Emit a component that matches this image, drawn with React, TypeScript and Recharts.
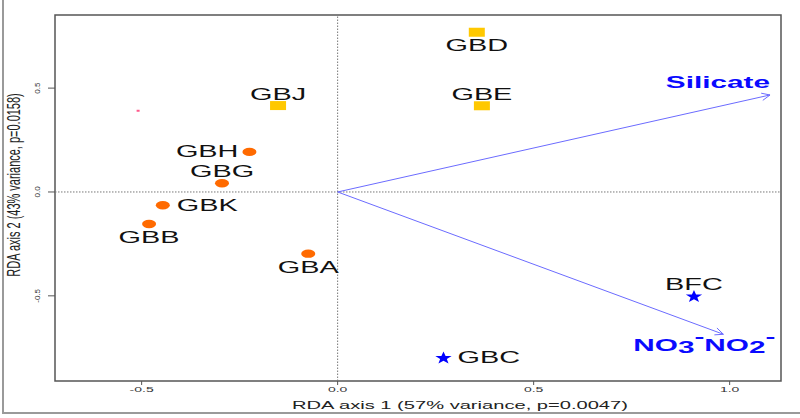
import React from 'react'
import { ScatterChart, Scatter, XAxis, YAxis, ReferenceLine, ReferenceArea, Label } from 'recharts'

// site scores (RDA axis 1, RDA axis 2)
const orangeSites = ['GBH', 'GBG', 'GBK', 'GBB', 'GBA']
const orangeAxis1 = [-0.225, -0.295, -0.446, -0.481, -0.075]
const orangeAxis2 = [0.193, 0.042, -0.064, -0.154, -0.297]

const yellowSites = ['GBD', 'GBE', 'GBJ']
const yellowAxis1 = [0.355, 0.368, -0.152]
const yellowAxis2 = [0.769, 0.415, 0.416]

const blueSites = ['GBC', 'BFC']
const blueAxis1 = [0.27, 0.909]
const blueAxis2 = [-0.796, -0.5]

// stray mark on the left
const strayAxis1 = [-0.509]
const strayAxis2 = [0.391]

// environmental vectors
const vectorNames = ['Silicate', 'NO3-NO2']
const vectorAxis1 = [1.103, 0.984]
const vectorAxis2 = [0.467, -0.685]

const xTicks = [-0.5, 0, 0.5, 1.0]
const yTicks = [-0.5, 0, 0.5]
const xDomain = [-0.721, 1.131]
const yDomain = [-0.91, 0.852]

const xTitle = 'RDA axis 1 (57% variance, p=0.0047)'
const yTitle = 'RDA axis 2 (43% variance, p=0.0158)'

const labelSide: Record<string, string> = {
  GBH: 'left',
  GBG: 'above',
  GBK: 'right',
  GBB: 'below',
  GBA: 'below',
  GBD: 'below',
  GBE: 'above',
  GBJ: 'above',
  GBC: 'right',
  BFC: 'above'
}

const FONT = '"Liberation Sans", Arial, sans-serif'
const STRETCH = 1.75
const ARROW = '#6b6bff'

const toPoints = (names: string[], a1: number[], a2: number[]) =>
  names.map((name, i) => ({ name, x: a1[i], y: a2[i] }))

function SiteLabel({ cx, cy, name }: { cx: number; cy: number; name: string }) {
  const side = labelSide[name]
  let x = cx
  let y = cy
  let anchor: 'start' | 'middle' | 'end' = 'middle'
  if (side === 'above') y = cy - 6
  else if (side === 'below') y = cy + 19
  else if (side === 'left') { x = cx - 11; y = cy + 5; anchor = 'end' }
  else { x = cx + 14; y = cy + 6; anchor = 'start' }
  return (
    <text
      transform={`translate(${x},${y}) scale(${STRETCH},1)`}
      textAnchor={anchor}
      fontFamily={FONT}
      fontSize={16.5}
      fill="#111"
    >
      {name}
    </text>
  )
}

function circleShape(props: any) {
  const { cx, cy, payload } = props
  return (
    <g>
      <ellipse cx={cx} cy={cy} rx={7} ry={4.2} fill="#ff6a00" />
      <SiteLabel cx={cx} cy={cy} name={payload.name} />
    </g>
  )
}

function squareShape(props: any) {
  const { cx, cy, payload } = props
  return (
    <g>
      <rect x={cx - 8} y={cy - 4.5} width={16} height={9} fill="#ffc800" />
      <SiteLabel cx={cx} cy={cy} name={payload.name} />
    </g>
  )
}

function starShape(props: any) {
  const { cx, cy, payload } = props
  const pts: string[] = []
  for (let i = 0; i < 10; i++) {
    const r = i % 2 === 0 ? 6.6 : 2.7
    const a = -Math.PI / 2 + (i * Math.PI) / 5
    pts.push(`${cx + r * Math.cos(a) * 1.3},${cy + 0.8 + r * Math.sin(a)}`)
  }
  return (
    <g>
      <polygon points={pts.join(' ')} fill="#0000ff" />
      <SiteLabel cx={cx} cy={cy} name={payload.name} />
    </g>
  )
}

function strayShape(props: any) {
  const { cx, cy } = props
  return <rect x={cx - 1.5} y={cy - 1} width={3} height={2} fill="#ff5a8c" />
}

function vectorLabel(name: string, x: number, y: number) {
  const common = {
    fontFamily: FONT,
    fontWeight: 700,
    fontSize: 17,
    fill: '#0a0aff'
  }
  if (name === 'Silicate') {
    return (
      <text transform={`translate(${x},${y - 7}) scale(${STRETCH},1)`} textAnchor="end" {...common}>
        Silicate
      </text>
    )
  }
  return (
    <text transform={`translate(${x - 19},${y + 17}) scale(${STRETCH},1)`} textAnchor="middle" {...common}>
      <tspan>NO</tspan>
      <tspan dy={2}>3</tspan>
      <tspan dy={-11.5}>-</tspan>
      <tspan dy={9.5}>NO</tspan>
      <tspan dy={2}>2</tspan>
      <tspan dy={-11.5}>-</tspan>
    </text>
  )
}

function arrowShape(name: string) {
  return (props: any) => {
    const { x1, y1, x2, y2 } = props
    const ang = Math.atan2(y2 - y1, x2 - x1)
    const len = 9
    const spread = 0.42
    const ax = x2 - len * Math.cos(ang - spread)
    const ay = y2 - len * Math.sin(ang - spread)
    const bx = x2 - len * Math.cos(ang + spread)
    const by = y2 - len * Math.sin(ang + spread)
    return (
      <g>
        <line x1={x1} y1={y1} x2={x2} y2={y2} stroke={ARROW} strokeWidth={1} />
        <polyline points={`${ax},${ay} ${x2},${y2} ${bx},${by}`} fill="none" stroke={ARROW} strokeWidth={1} />
        {vectorLabel(name, x2, y2)}
      </g>
    )
  }
}

function XTick(props: any) {
  const { x, y, payload } = props
  return (
    <text
      transform={`translate(${x},${y + 5}) scale(${STRETCH},1)`}
      textAnchor="middle"
      fontFamily={FONT}
      fontSize={8}
      fill="#333"
    >
      {Number(payload.value).toFixed(1)}
    </text>
  )
}

function YTick(props: any) {
  const { y, payload } = props
  return (
    <text
      transform={`translate(39.5,${y}) rotate(-90)`}
      textAnchor="middle"
      fontFamily={FONT}
      fontSize={8}
      fill="#333"
    >
      {Number(payload.value).toFixed(1)}
    </text>
  )
}

export default function App(): React.ReactElement {
  const orange = toPoints(orangeSites, orangeAxis1, orangeAxis2)
  const yellow = toPoints(yellowSites, yellowAxis1, yellowAxis2)
  const blue = toPoints(blueSites, blueAxis1, blueAxis2)
  const stray = toPoints(['stray'], strayAxis1, strayAxis2)

  return (
    <div style={{ position: 'absolute', left: 0, top: 0, width: 800, height: 418, background: '#fff' }}>
      <div
        style={{
          position: 'absolute',
          left: 2,
          top: 0,
          width: 798,
          height: 414,
          borderLeft: '2px solid #9a9a9a',
          borderBottom: '2px solid #9a9a9a',
          boxSizing: 'border-box'
        }}
      />
      <ScatterChart
        width={800}
        height={418}
        margin={{ top: 15, right: 19, bottom: 0, left: 0 }}
        style={{ position: 'absolute', left: 0, top: 0 }}
      >
        <XAxis
          type="number"
          dataKey="x"
          domain={xDomain}
          ticks={xTicks}
          allowDataOverflow
          height={37}
          axisLine={false}
          tickSize={4}
          tickLine={{ stroke: '#555' }}
          tick={<XTick />}
        >
          <Label
            content={(p: any) => {
              const vb = p.viewBox
              return (
                <text
                  transform={`translate(${vb.x + vb.width / 2 + 42},409) scale(${STRETCH},1)`}
                  textAnchor="middle"
                  fontFamily={FONT}
                  fontSize={11.5}
                  fill="#222"
                >
                  {xTitle}
                </text>
              )
            }}
          />
        </XAxis>
        <YAxis
          type="number"
          dataKey="y"
          domain={yDomain}
          ticks={yTicks}
          allowDataOverflow
          width={55}
          axisLine={false}
          tickSize={7}
          tickLine={{ stroke: '#555' }}
          tick={<YTick />}
        >
          <Label
            content={(p: any) => {
              const vb = p.viewBox
              return (
                <text
                  transform={`translate(20,${vb.y + vb.height / 2 - 13}) scale(${STRETCH},1) rotate(-90)`}
                  textAnchor="middle"
                  fontFamily={FONT}
                  fontSize={11}
                  fill="#222"
                >
                  {yTitle}
                </text>
              )
            }}
          />
        </YAxis>
        <ReferenceArea
          x1={xDomain[0]}
          x2={xDomain[1]}
          y1={yDomain[0]}
          y2={yDomain[1]}
          fill="none"
          fillOpacity={0}
          stroke="#555"
          strokeWidth={1.5}
        />
        <ReferenceLine x={0} stroke="#777" strokeDasharray="1.5 1.5" />
        <ReferenceLine y={0} stroke="#777" strokeDasharray="1.5 1.5" />
        {vectorNames.map((name, i) => (
          <ReferenceLine
            key={name}
            segment={[
              { x: 0, y: 0 },
              { x: vectorAxis1[i], y: vectorAxis2[i] }
            ]}
            shape={arrowShape(name)}
          />
        ))}
        <Scatter data={stray} shape={strayShape} isAnimationActive={false} />
        <Scatter data={orange} shape={circleShape} isAnimationActive={false} />
        <Scatter data={yellow} shape={squareShape} isAnimationActive={false} />
        <Scatter data={blue} shape={starShape} isAnimationActive={false} />
      </ScatterChart>
    </div>
  )
}
